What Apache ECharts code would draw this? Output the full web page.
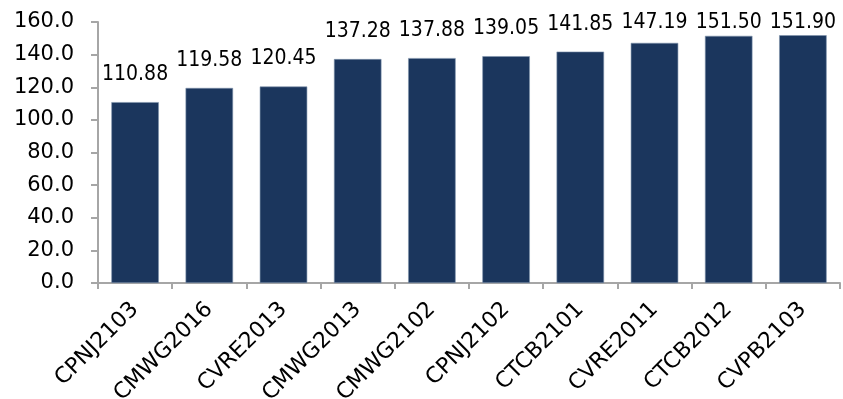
<!DOCTYPE html>
<html>
<head>
<meta charset="utf-8">
<script src="https://cdn.jsdelivr.net/npm/echarts@6/dist/echarts.min.js"></script>
<style>
  html, body { margin: 0; padding: 0; background: #fff; }
  #chart { width: 843px; height: 399px; }
</style>
</head>
<body>
<div id="chart"></div>
<script>
// Bond codes and their values
const categories = ['CPNJ2103', 'CMWG2016', 'CVRE2013', 'CMWG2013', 'CMWG2102',
                    'CPNJ2102', 'CTCB2101', 'CVRE2011', 'CTCB2012', 'CVPB2103'];
const values = [110.88, 119.58, 120.45, 137.28, 137.88, 139.05, 141.85, 147.19, 151.50, 151.90];

// Value axis range
const yMin = 0;
const yMax = 160;
const yStep = 20;

const chart = echarts.init(document.getElementById('chart'), null, { renderer: 'canvas' });

const axisGrey = '#a6a6a6';

chart.setOption({
  animation: false,
  grid: {
    left: 98, right: 3, top: 22, bottom: 116,
    containLabel: false,
    outerBoundsMode: 'none'
  },
  xAxis: {
    type: 'category',
    data: categories,
    boundaryGap: true,
    axisLine: { show: true, lineStyle: { color: axisGrey, width: 2 } },
    axisTick: { show: true, length: 6, lineStyle: { color: axisGrey, width: 2 } },
    axisLabel: {
      interval: 0,
      rotate: 45,
      margin: 23,
      fontFamily: 'DejaVu Sans',
      fontSize: 22,
      color: '#000'
    }
  },
  yAxis: {
    type: 'value',
    min: yMin,
    max: yMax,
    interval: yStep,
    splitLine: { show: false },
    axisLine: { show: true, lineStyle: { color: axisGrey, width: 2 } },
    axisTick: { show: true, length: 7, lineStyle: { color: axisGrey, width: 2 } },
    axisLabel: {
      margin: 24,
      fontFamily: 'DejaVu Sans',
      fontSize: 21,
      color: '#000',
      formatter: v => v.toFixed(1)
    }
  },
  series: [{
    type: 'bar',
    data: values,
    barWidth: '64%',
    itemStyle: { color: '#1b365d', borderColor: '#7f93ad', borderWidth: 0.6 },
    label: {
      show: true,
      position: 'top',
      distance: 17,
      fontFamily: '"DejaVu Sans Condensed", "Liberation Sans", sans-serif',
      fontSize: 21,
      color: '#000',
      formatter: p => p.value.toFixed(2)
    },
    // keep labels of the tallest bars from running above the plot
    labelLayout: p => ({ dy: Math.max(0, 12 - p.labelRect.y) })
  }]
});
</script>
</body>
</html>
